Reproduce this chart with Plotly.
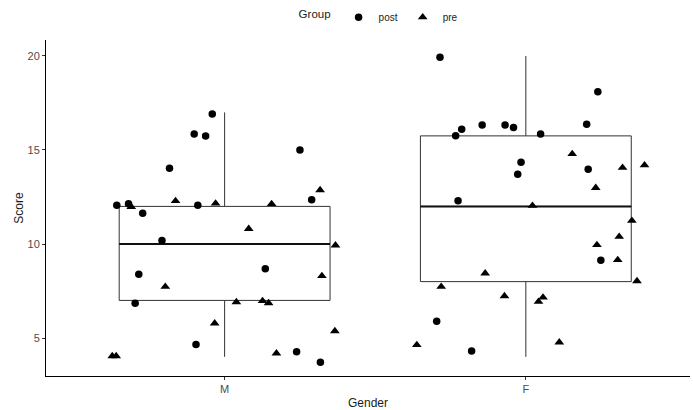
import plotly.graph_objects as go

# ---- data ----
categories = ["M", "F"]
cat_pos = {"M": 1, "F": 2}

# box summary statistics (per gender)
box_min = [4, 4]
box_q1 = [7, 8]
box_median = [10, 12]
box_q3 = [12, 15.75]
box_max = [17, 20]

# jittered points: group "post"
post_gender = ["M"] * 17 + ["F"] * 16
post_jitter = [-0.041, -0.101, -0.063, -0.183, -0.358, -0.319, -0.089, -0.272, -0.208,
               -0.285, -0.297, -0.095, 0.250, 0.289, 0.135, 0.239, 0.318,
               -0.285, -0.233, -0.213, -0.145, -0.069, -0.041, -0.016, -0.027,
               -0.225, -0.296, -0.180, 0.239, 0.202, 0.049, 0.207, 0.249]
post_score = [16.91, 15.85, 15.74, 14.03, 12.06, 12.14, 12.06, 11.63, 10.18,
              8.39, 6.85, 4.66, 15.00, 12.36, 8.69, 4.27, 3.71,
              19.93, 15.76, 16.10, 16.33, 16.33, 16.19, 14.35, 13.71,
              12.30, 5.89, 4.31, 18.10, 16.37, 15.85, 13.97, 9.13]

# jittered points: group "pre"
pre_gender = ["M"] * 17 + ["F"] * 17
pre_jitter = [-0.310, -0.163, -0.030, -0.197, -0.033, -0.373, -0.360, 0.317, 0.156,
              0.080, 0.368, 0.323, 0.039, 0.126, 0.146, 0.366, 0.172,
              -0.135, -0.281, -0.071, -0.362, 0.154, 0.321, 0.394, 0.232, 0.022,
              0.352, 0.310, 0.236, 0.305, 0.369, 0.042, 0.057, 0.111]
pre_score = [11.98, 12.29, 12.16, 7.73, 5.78, 4.04, 4.04, 12.87, 12.13,
             10.81, 9.93, 8.30, 6.91, 6.97, 6.86, 5.37, 4.19,
             8.44, 7.73, 7.23, 4.63, 14.79, 14.06, 14.19, 12.99, 12.04,
             11.24, 10.39, 9.95, 9.15, 8.03, 6.93, 7.16, 4.77]

BOX_WIDTH = 0.7
LINE_COL = "#333333"

fig = go.Figure()

# boxes
fig.add_trace(go.Box(
    x=[cat_pos[c] for c in categories],
    q1=box_q1, median=box_median, q3=box_q3,
    lowerfence=box_min, upperfence=box_max,
    width=BOX_WIDTH, whiskerwidth=0,
    line=dict(color=LINE_COL, width=1),
    fillcolor="rgba(0,0,0,0)",
    showlegend=False, hoverinfo="skip",
))

# thicker median lines
for c, m in zip(categories, box_median):
    p = cat_pos[c]
    fig.add_trace(go.Scatter(
        x=[p - BOX_WIDTH / 2, p + BOX_WIDTH / 2], y=[m, m],
        mode="lines", line=dict(color="#111111", width=2),
        showlegend=False, hoverinfo="skip",
    ))

fig.add_trace(go.Scatter(
    x=[cat_pos[g] + j for g, j in zip(post_gender, post_jitter)],
    y=post_score, mode="markers", name="post",
    marker=dict(symbol="circle", size=7.5, color="black"),
))
fig.add_trace(go.Scatter(
    x=[cat_pos[g] + j for g, j in zip(pre_gender, pre_jitter)],
    y=pre_score, mode="markers", name="pre",
    marker=dict(symbol="triangle-up", size=8.5, color="black"),
))

fig.update_layout(
    width=693, height=410,
    margin=dict(l=46, r=3, t=40, b=34, autoexpand=False),
    plot_bgcolor="white", paper_bgcolor="white",
    font=dict(family="Liberation Sans, Arial, sans-serif", color="#1a1a1a"),
    legend=dict(
        orientation="h",
        xref="container", x=0.428, xanchor="left",
        yref="container", y=0.958, yanchor="middle",
        title=dict(text="Group", font=dict(size=11.5)),
        font=dict(size=10), itemwidth=30, tracegroupgap=0,
    ),
)

fig.update_xaxes(
    range=[0.407, 2.545], tickvals=[1, 2], ticktext=categories,
    showgrid=False, zeroline=False, automargin=False,
    showline=True, linecolor="black", linewidth=1,
    ticks="outside", ticklen=3, tickcolor="#333333",
    tickfont=dict(size=11, color="#4d4d4d"),
    title=dict(text="Gender", font=dict(size=12), standoff=5),
)
fig.update_yaxes(
    range=[2.98, 20.85], tickvals=[5, 10, 15, 20],
    showgrid=False, zeroline=False, automargin=False,
    showline=True, linecolor="black", linewidth=1,
    ticks="outside", ticklen=3, tickcolor="#333333",
    tickfont=dict(size=11, color="#4d4d4d"),
    title=dict(text="Score", font=dict(size=12), standoff=1),
)

fig.write_html(
    "out.html",
    config={"displayModeBar": False},
    post_script="document.body.style.margin='0';document.body.style.overflow='hidden';",
)
